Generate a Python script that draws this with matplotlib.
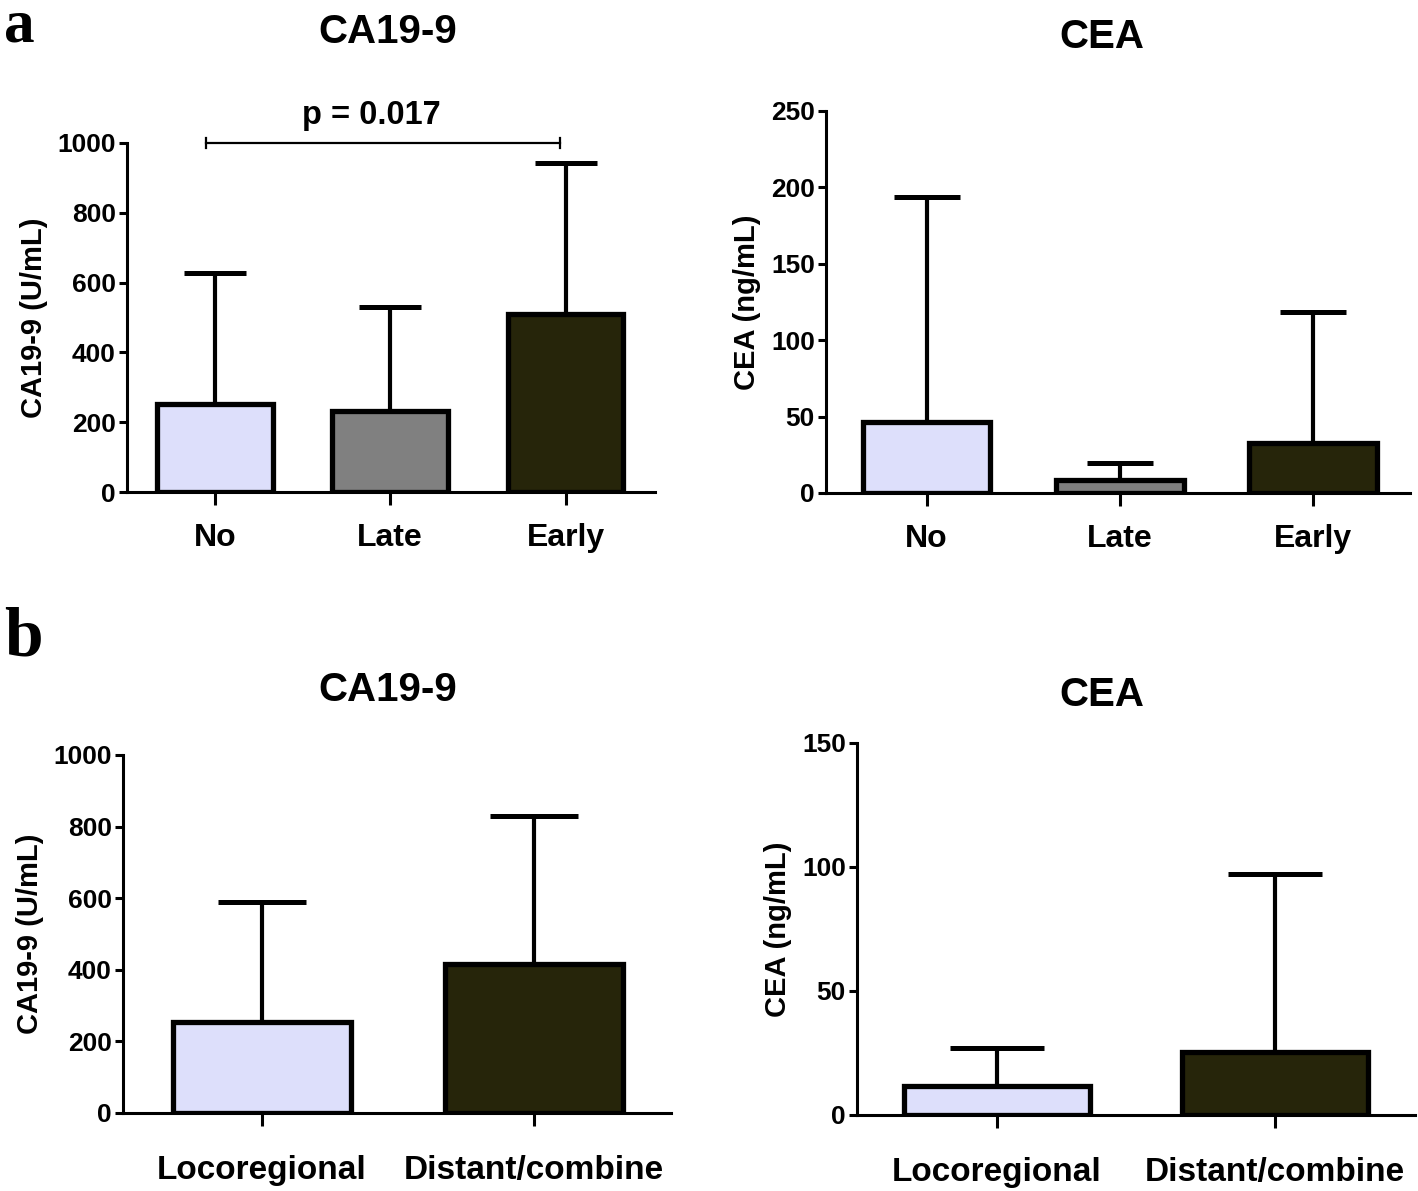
import matplotlib
matplotlib.use("Agg")
import matplotlib.pyplot as plt

plt.rcParams['font.family'] = ['Liberation Sans', 'DejaVu Sans']
plt.rcParams['font.weight'] = 'bold'

# Data
groups_a = ["No", "Late", "Early"]
ca199_a_mean = [252, 232, 510]
ca199_a_err = [375, 298, 433]
cea_a_mean = [46.5, 8.5, 33]
cea_a_err = [147.5, 11.1, 85.5]

groups_b = ["Locoregional", "Distant/combine"]
ca199_b_mean = [254, 416]
ca199_b_err = [335, 414]
cea_b_mean = [11.7, 25.4]
cea_b_err = [15.3, 71.6]

colors_a = ["#DDDFFB", "#808080", "#26250A"]
colors_b = ["#DDDFFB", "#26250A"]

W, H = 1418, 1191
fig = plt.figure(figsize=(W / 100, H / 100), dpi=100)


def ax_px(left, right, bottom, top):
    return fig.add_axes([left / W, 1 - bottom / H, (right - left) / W, (bottom - top) / H])


def draw(ax, cats, mean, err, colors, ylim, yticks, ylabel, xlim, width, xpad, capsize, xfs):
    x = list(range(len(cats)))
    ax.bar(x, mean, width=width, color=colors, edgecolor="black", linewidth=3.8, zorder=3)
    ax.errorbar(x, mean, yerr=[[0] * len(err), err], fmt="none", ecolor="black",
                elinewidth=3.0, capsize=capsize, capthick=3.6, zorder=2)
    ax.set_xlim(*xlim)
    ax.set_ylim(*ylim)
    ax.set_yticks(yticks)
    ax.set_yticklabels([str(t) for t in yticks], fontsize=19, fontweight="bold")
    ax.set_xticks(x)
    ax.set_xticklabels(cats, fontsize=xfs, fontweight="bold")
    ax.tick_params(axis="x", length=9, width=2.2, pad=xpad)
    ax.tick_params(axis="y", length=6, width=2.2, pad=2)
    for s in ["top", "right"]:
        ax.spines[s].set_visible(False)
    for s in ["left", "bottom"]:
        ax.spines[s].set_linewidth(2.2)
    ax.set_ylabel(ylabel, fontsize=21, fontweight="bold", labelpad=7)
    ax.patch.set_alpha(0)


ax1 = ax_px(127, 655, 492, 143)
draw(ax1, groups_a, ca199_a_mean, ca199_a_err, colors_a, (0, 1000),
     [0, 200, 400, 600, 800, 1000], "CA19-9 (U/mL)", (-0.5, 2.51), 0.66, 13, 22, 23)

ax2 = ax_px(826, 1410, 493, 111)
draw(ax2, groups_a, cea_a_mean, cea_a_err, colors_a, (0, 250),
     [0, 50, 100, 150, 200, 250], "CEA (ng/mL)", (-0.52, 2.5), 0.66, 13, 24, 23)

ax3 = ax_px(123, 671, 1113, 755)
draw(ax3, groups_b, ca199_b_mean, ca199_b_err, colors_b, (0, 1000),
     [0, 200, 400, 600, 800, 1000], "CA19-9 (U/mL)", (-0.511, 1.504), 0.655, 21, 32, 24)

ax4 = ax_px(857, 1415, 1115, 743)
draw(ax4, groups_b, cea_b_mean, cea_b_err, colors_b, (0, 150),
     [0, 50, 100, 150], "CEA (ng/mL)", (-0.504, 1.504), 0.67, 21, 34, 24)

# p-value bracket
ax1.plot([-0.05, 1.966], [1000, 1000], color="black", lw=1.6, clip_on=False)
for xx in (-0.05, 1.966):
    ax1.plot([xx, xx], [985, 1015], color="black", lw=1.6, clip_on=False)
ax1.text(0.895, 1035, "p = 0.017", ha="center", va="bottom", fontsize=23.5, fontweight="bold")

# titles
fig.text(388 / W, 1 - 32 / H, "CA19-9", ha="center", va="center", fontsize=29, fontweight="bold")
fig.text(1102 / W, 1 - 37 / H, "CEA", ha="center", va="center", fontsize=29, fontweight="bold")
fig.text(388 / W, 1 - 690 / H, "CA19-9", ha="center", va="center", fontsize=29, fontweight="bold")
fig.text(1102 / W, 1 - 695 / H, "CEA", ha="center", va="center", fontsize=29, fontweight="bold")

# panel letters
fig.text(4 / W, 1 - 42 / H, "a", ha="left", va="baseline", fontsize=44, fontweight="bold",
         family=["Liberation Serif", "DejaVu Serif"])
fig.text(4 / W, 1 - 655 / H, "b", ha="left", va="baseline", fontsize=50, fontweight="bold",
         family=["Liberation Serif", "DejaVu Serif"])

fig.savefig("out.png", dpi=100)
